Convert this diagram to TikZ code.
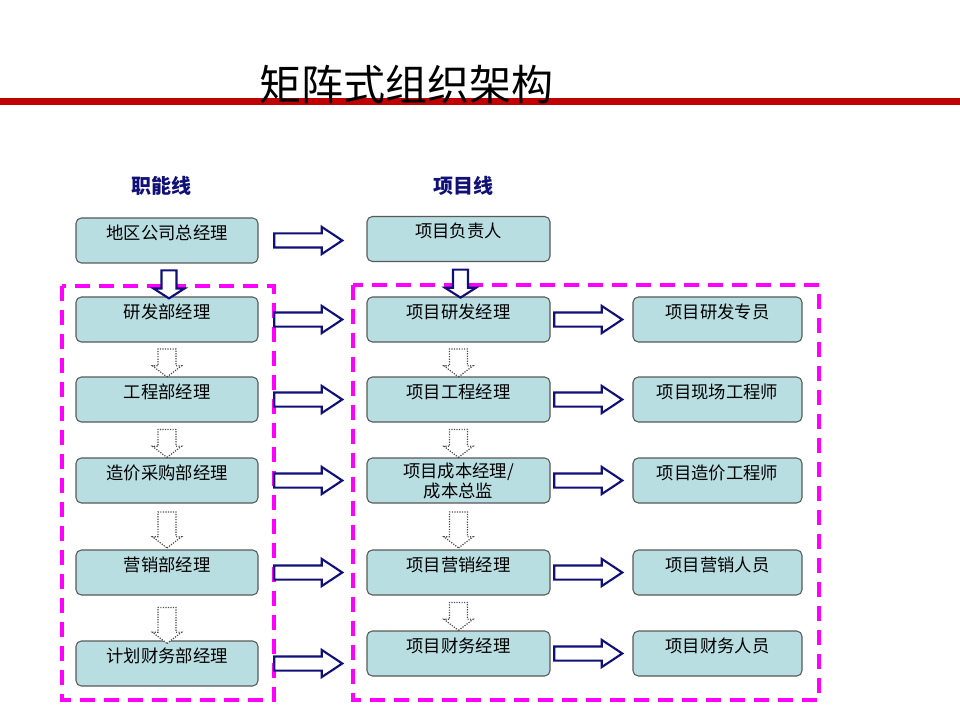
\documentclass[tikz,border=0pt]{standalone}
\usepackage{fontspec}
\setmainfont{Noto Sans CJK SC}
\usepackage{xcolor}
\usetikzlibrary{shapes.arrows,positioning,calc}

\definecolor{boxfill}{RGB}{185,222,226}
\definecolor{navy}{RGB}{16,16,120}
\definecolor{zonepink}{RGB}{255,0,255}
\definecolor{titlered}{RGB}{192,0,0}

\tikzset{
  dept/.style={draw=black!65, fill=boxfill, rounded corners=4pt, line width=0.8pt,
    minimum width=136.5pt, minimum height=33.75pt, inner sep=1pt,
    text height=10pt, text depth=11.75pt, font=\fontsize{13}{15}\selectfont},
  deptii/.style={dept, text height={}, text depth={}, align=center},
  rarrow/.style={single arrow, draw=navy, fill=white, line width=1.6pt,
    minimum height=51pt, inner sep=4.5pt, single arrow head extend=4.9pt,
    single arrow tip angle=67},
  darrow/.style={single arrow, draw=navy, fill=white, line width=1.6pt,
    shape border rotate=270, minimum height=21pt, inner sep=4.8pt,
    single arrow head extend=6pt, single arrow tip angle=115},
  dotarrow/.style={single arrow, draw=black!70, densely dotted, fill=white, line width=0.9pt,
    shape border rotate=270, minimum height=21pt, inner sep=6.3pt,
    single arrow head extend=4.2pt, single arrow tip angle=105},
  zone/.style={draw=zonepink, line width=3pt, dash pattern=on 11pt off 7pt},
  linehead/.style={text=navy, font=\fontsize{15}{18}\selectfont\bfseries}
}

\begin{document}
\begin{tikzpicture}[x=0.75pt,y=-0.75pt]
  \useasboundingbox (0,0) rectangle (960,720);

  % title and red rule
  \fill[titlered] (0,98) rectangle (960,105);
  \node[font=\fontsize{31.5}{34}\selectfont] (title) at (406,85) {矩阵式组织架构};

  \node[linehead] (fhead) at (161,186) {职能线};
  \node[linehead] (phead) at (463,186) {项目线};

  % dashed zones
  \draw[zone] (62,286) rectangle (274,700);
  \draw[zone] (353,285) rectangle (819,700);

  % functional line
  \node[dept] (region) at (167,240.5) {地区公司总经理};
  \node[dept] (fRD)    at (167,319.5) {研发部经理};
  \node[dept] (fEng)   at (167,399.5) {工程部经理};
  \node[dept] (fCost)  at (167,480.5) {造价采购部经理};
  \node[dept] (fSales) at (167,572.5) {营销部经理};
  \node[dept] (fFin)   at (167,663.5) {计划财务部经理};

  % project line
  \node[dept, minimum width=137.25pt] (pHead)  at (458.5,239)   {项目负责人};
  \node[dept, minimum width=137.25pt] (pRD)    at (458.5,319.5) {项目研发经理};
  \node[dept, minimum width=137.25pt] (pEng)   at (458.5,399.5) {项目工程经理};
  \node[deptii, minimum width=137.25pt, font=\fontsize{13}{15}\selectfont] (pCost) at (458.5,480.5) {项目成本经理/\\成本总监};
  \node[dept, minimum width=137.25pt] (pSales) at (458.5,572.5) {项目营销经理};
  \node[dept, minimum width=137.25pt] (pFin)   at (458.5,653.5) {项目财务经理};

  % project staff
  \node[dept, minimum width=126.75pt] (sRD)    at (717.5,319.5) {项目研发专员};
  \node[dept, minimum width=126.75pt] (sSite)  at (717.5,399.5) {项目现场工程师};
  \node[dept, minimum width=126.75pt] (sCost)  at (717.5,480.5) {项目造价工程师};
  \node[dept, minimum width=126.75pt] (sSales) at (717.5,572.5) {项目营销人员};
  \node[dept, minimum width=126.75pt] (sFin)   at (717.5,653.5) {项目财务人员};

  % arrows functional -> project
  \node[rarrow, right=11pt of region] (a0) {};
  \node[rarrow, right=11pt of fRD]    (a1) {};
  \node[rarrow, right=11pt of fEng]   (a2) {};
  \node[rarrow, right=11pt of fCost]  (a3) {};
  \node[rarrow, right=11pt of fSales] (a4) {};
  \node[rarrow, right=11pt of fFin]   (a5) {};

  % arrows project -> staff
  \node[rarrow, right=2pt of pRD]    (b1) {};
  \node[rarrow, right=2pt of pEng]   (b2) {};
  \node[rarrow, right=2pt of pCost]  (b3) {};
  \node[rarrow, right=2pt of pSales] (b4) {};
  \node[rarrow, right=2pt of pFin]   (b5) {};

  % solid down arrows
  \node[darrow] (d0) at ($(region.south)!.5!(fRD.north)+(2,2)$) {};
  \node[darrow] (d1) at ($(pHead.south)!.5!(pRD.north)+(2,2)$) {};

  % dotted down arrows
  \node[dotarrow] (e1) at ($(fRD.south)!.5!(fEng.north)$) {};
  \node[dotarrow] (e2) at ($(fEng.south)!.5!(fCost.north)$) {};
  \node[dotarrow, minimum height=27pt] (e3) at ($(fCost.south)!.5!(fSales.north)$) {};
  \node[dotarrow, minimum height=27pt] (e4) at ($(fSales.south)!.5!(fFin.north)+(0,4)$) {};
  \node[dotarrow] (g1) at ($(pRD.south)!.5!(pEng.north)$) {};
  \node[dotarrow] (g2) at ($(pEng.south)!.5!(pCost.north)$) {};
  \node[dotarrow, minimum height=27pt] (g3) at ($(pCost.south)!.5!(pSales.north)$) {};
  \node[dotarrow] (g4) at ($(pSales.south)!.5!(pFin.north)$) {};
\end{tikzpicture}
\end{document}
